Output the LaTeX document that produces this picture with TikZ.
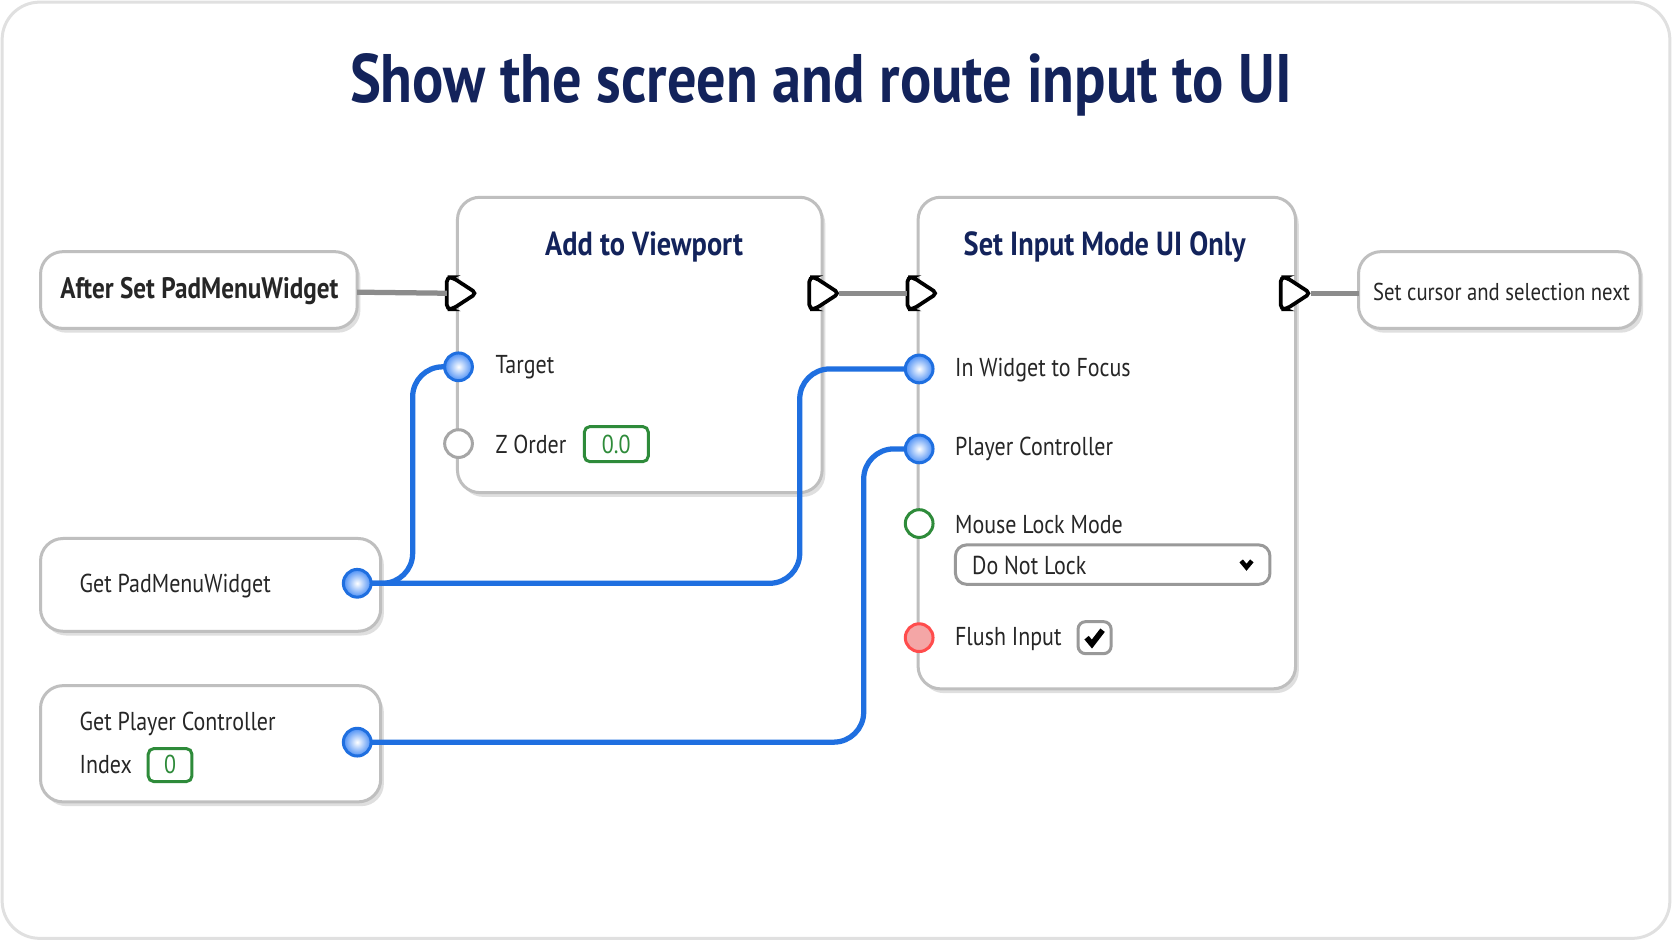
\documentclass[tikz,border=0pt]{standalone}
\usepackage{fontspec}
\setmainfont{PT Sans}[FakeStretch=0.85]
\usetikzlibrary{calc,shadows}
\definecolor{navy}{HTML}{13235B}
\definecolor{wire}{HTML}{1F6FE0}
\definecolor{pinblue}{HTML}{4A8EF5}
\definecolor{okgreen}{HTML}{2E8B3A}
\definecolor{pinred}{HTML}{F4A6A6}
\tikzset{
  box/.style={draw=black!25, fill=white, rounded corners=6pt, line width=0.8pt,
    drop shadow={shadow xshift=0.3mm, shadow yshift=-0.4mm, opacity=0.25}},
  boxtitle/.style={font=\fontsize{8.9}{11}\selectfont\bfseries, text=navy},
  lbl/.style={font=\fontsize{6.9}{9}\selectfont, text=black!85, anchor=west, inner sep=0pt},
  datapin/.style={circle, draw=wire, line width=0.8pt, inner color=white, outer color=pinblue, minimum size=2.6mm, inner sep=0pt},
  hollow/.style={circle, draw=#1, line width=0.8pt, fill=white, minimum size=2.6mm, inner sep=0pt},
  valbox/.style={draw=okgreen, line width=0.8pt, rounded corners=1.5pt, text=okgreen, font=\fontsize{6.9}{9}\selectfont, inner sep=0pt},
  bluewire/.style={wire, line width=1.4pt, rounded corners=8pt},
  execwire/.style={black!45, line width=1.4pt}
}
% exec pin: rounded arrow shape
\newcommand{\execpin}[2]{%
  \node[inner sep=0pt, minimum size=3mm] (#1) at #2 {};
  \draw[black, line width=1pt, fill=white, rounded corners=1.2pt]
    ($(#1)+(-13,-15)$) -- ($(#1)+(-8,-15)$) -- ($(#1)+(15,0)$) -- ($(#1)+(-8,15)$) -- ($(#1)+(-13,15)$) -- cycle;}
\begin{document}
\begin{tikzpicture}[x=0.01cm, y=-0.01cm]
\useasboundingbox (0,0) rectangle (1568,882);
\draw[black!12, line width=0.8pt, rounded corners=10pt, fill=white] (2,2) rectangle (1566,880);
\node[font=\fontsize{18.3}{22}\selectfont\bfseries, text=navy] (title) at (770,80) {Show the screen and route input to UI};

% boxes
\draw[box] (38,236) rectangle (335,308);
\node[font=\fontsize{7.9}{10}\selectfont\bfseries, text=black!85] (aftertxt) at (187,273) {After Set PadMenuWidget};
\draw[box] (429,185) rectangle (771,462);
\node[boxtitle] (addtitle) at (604,232) {Add to Viewport};
\draw[box] (861,185) rectangle (1215,646);
\node[boxtitle] (settitle) at (1036,232) {Set Input Mode UI Only};
\draw[box] (1274,236) rectangle (1538,308);
\node[lbl, font=\fontsize{6.5}{9}\selectfont] (nexttxt) at (1287,274) {Set cursor and selection next};
\draw[box] (38,505) rectangle (357,592);
\node[lbl] (getpad) at (74,550) {Get PadMenuWidget};
\draw[box] (38,643) rectangle (357,752);
\node[lbl] (getpc) at (74,679) {Get Player Controller};
\node[lbl] (index) at (74,717) {Index};
\draw[valbox] (139,702) rectangle (180,733);
\node[valbox, draw=none] (idxtxt) at (159.5,717) {0};

% exec wires and pins
\coordinate (afterout) at (335,274);
\coordinate (nextin) at (1274,275);
\execpin{addin}{(432,275)}
\execpin{addout}{(772,275)}
\execpin{setin}{(864,275)}
\execpin{setout}{(1214,275)}
\draw[execwire] (afterout) -- ($(addin)+(-13,0)$);
\draw[execwire] ($(addout)+(15,0)$) -- ($(setin)+(-13,0)$);
\draw[execwire] ($(setout)+(15,0)$) -- (nextin);

% Add to Viewport inputs
\node[lbl] (targetlbl) at (464,344) {Target};
\node[lbl] (zlbl) at (464,417) {Z Order};
\draw[valbox] (548,400) rectangle (608,433);
\node[valbox, draw=none] (zval) at (578,417) {0.0};

% Set Input Mode inputs
\node[lbl] (widgetlbl) at (895,347) {In Widget to Focus};
\node[lbl] (pclbl) at (895,421) {Player Controller};
\node[lbl] (mouselbl) at (895,492) {Mouse Lock Mode};
\draw[black!40, line width=0.8pt, rounded corners=3pt, fill=white] (896,511) rectangle (1191,548);
\node[lbl] (locktxt) at (911,530) {Do Not Lock};
\draw[black, line width=1.2pt] (1164,526) -- (1169,532) -- (1174,526);
\node[lbl] (flushlbl) at (895,599) {Flush Input};
\draw[black!40, line width=0.8pt, rounded corners=2pt, fill=white] (1011,583) rectangle (1042,613);
\draw[black, line width=1.5pt] (1019,598) -- (1024,604) -- (1034,591);

% blue wires
\coordinate (padout) at (335,547);
\coordinate (pcout) at (335,696);
\coordinate (target) at (430,344);
\coordinate (widget) at (862,346);
\coordinate (pcin) at (862,421);
\draw[bluewire] (padout) -- (387,547) -- (387,344) -- (target);
\draw[bluewire] (padout) -- (750,547) -- (750,346) -- (widget);
\draw[bluewire] (pcout) -- (810,696) -- (810,421) -- (pcin);

% data pins
\node[datapin] (targetpin) at (target) {};
\node[hollow=black!35] (zpin) at (430,416) {};
\node[datapin] (widgetpin) at (widget) {};
\node[datapin] (pcpin) at (pcin) {};
\node[hollow=okgreen] (mousepin) at (862,491) {};
\node[hollow=red!70, fill=pinred] (flushpin) at (862,598) {};
\node[datapin] (padpin) at (padout) {};
\node[datapin] (pcoutpin) at (pcout) {};
\end{tikzpicture}
\end{document}
